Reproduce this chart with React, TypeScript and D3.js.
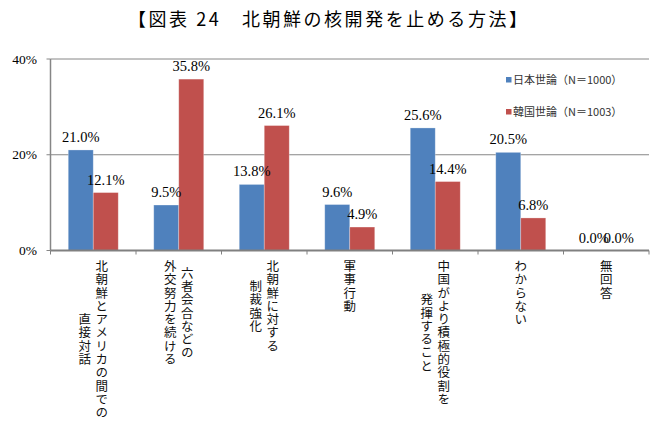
import React from "react";
import * as d3 from "d3";

// カテゴリ（縦書き、行ごとに分割）
const categories: string[][] = [
    ["北朝鮮とアメリカの間での", "直接対話"],
    ["六者会合などの", "外交努力を続ける"],
    ["北朝鮮に対する", "制裁強化"],
    ["軍事行動"],
    ["中国がより積極的役割を", "発揮すること"],
    ["わからない"],
    ["無回答"],
];
const seriesNames = ["日本世論（N＝1000）", "韓国世論（N＝1003）"];
const japanValues = [21.0, 9.5, 13.8, 9.6, 25.6, 20.5, 0.0];
const koreaValues = [12.1, 35.8, 26.1, 4.9, 14.4, 6.8, 0.0];
const yTicks = [0, 20, 40];
const colors = ["#4F81BD", "#C0504D"];

const W = 670, H = 432;
const left = 50.5, right = 649, top = 59, bottom = 250.5;
const catFont = "'Noto Sans CJK JP', 'Noto Sans', sans-serif";
const numFont = "'Liberation Serif', 'DejaVu Serif', serif";

export default function App() {
    const keys = categories.map((c) => c.join(""));
    const x0 = d3.scaleBand<string>().domain(keys).range([left, right]).padding(0);
    const x1 = d3.scaleBand<string>().domain(["jp", "kr"]).range([0, x0.bandwidth()]).paddingInner(0).paddingOuter(0.71);
    const y = d3.scaleLinear().domain([0, 40]).range([bottom, top]);
    const series = [
        { key: "jp", values: japanValues, color: colors[0] },
        { key: "kr", values: koreaValues, color: colors[1] },
    ];
    const catSize = 12.5;
    const step = 13.3; // 一文字あたりの送り
    const lineGap = 17;
    const labelTop = 260;

    return (
        <div style={{ position: "absolute", left: 0, top: 0 }}>
            <svg width={W} height={H} style={{ display: "block", background: "#fff" }}>
                {/* タイトル */}
                <text x={327.5} y={26} textAnchor="middle" fontFamily={catFont} fontSize={18}
                    textLength={399} lengthAdjust="spacing" fill="#000">
                    【図表 24　北朝鮮の核開発を止める方法】
                </text>

                {/* 目盛線 */}
                {yTicks.filter((t) => t > 0).map((t) => (
                    <line key={t} x1={left} x2={right} y1={y(t)} y2={y(t)} stroke="#868686" strokeWidth={1} />
                ))}

                {/* Y軸 */}
                <line x1={left} x2={left} y1={top} y2={bottom} stroke="#868686" strokeWidth={1.5} />
                {yTicks.map((t) => (
                    <g key={t}>
                        <line x1={left - 4} x2={left} y1={y(t)} y2={y(t)} stroke="#868686" strokeWidth={1} />
                        <text x={37} y={y(t)} dy="0.35em" textAnchor="end" fontFamily={numFont} fontSize={13.5} fill="#000">
                            {t}%
                        </text>
                    </g>
                ))}

                {/* 棒 */}
                {keys.map((k, i) => (
                    <g key={k} transform={`translate(${x0(k)},0)`}>
                        {series.map((s) => (
                            <rect key={s.key} x={x1(s.key)} y={y(s.values[i])} width={x1.bandwidth()}
                                height={bottom - y(s.values[i])} fill={s.color} stroke="#ffffff" strokeOpacity={0.35} strokeWidth={0.8} />
                        ))}
                    </g>
                ))}

                {/* 値ラベル */}
                {keys.map((k, i) => (
                    <g key={k + "lab"} transform={`translate(${x0(k)},0)`}>
                        {series.map((s) => (
                            <text key={s.key} x={(x1(s.key) as number) + x1.bandwidth() / 2} y={y(s.values[i]) - 8}
                                textAnchor="middle" fontFamily={numFont} fontSize={14.5} fill="#000">
                                {s.values[i].toFixed(1)}%
                            </text>
                        ))}
                    </g>
                ))}

                {/* X軸 */}
                <line x1={left} x2={right} y1={bottom} y2={bottom} stroke="#808080" strokeWidth={2} />
                {keys.concat([""]).map((k, i) => {
                    const xx = i < keys.length ? (x0(k) as number) : right;
                    return <line key={"t" + i} x1={xx} x2={xx} y1={bottom} y2={bottom + 4} stroke="#808080" strokeWidth={1} />;
                })}

                {/* カテゴリラベル（縦書き） */}
                {categories.map((lines, i) => {
                    const cx = (x0(keys[i]) as number) + x0.bandwidth() / 2;
                    const maxLen = d3.max(lines, (l) => l.length) as number;
                    const midY = labelTop + (maxLen * step) / 2;
                    return (
                        <g key={"c" + i}>
                            {lines.map((line, j) => {
                                const lx = cx + ((lines.length - 1) / 2) * lineGap - j * lineGap;
                                return (
                                    <text key={j} x={lx} y={midY} textAnchor="middle"
                                        style={{ writingMode: "vertical-rl", letterSpacing: `${step - catSize}px` }}
                                        fontFamily={catFont} fontSize={catSize} fill="#111">
                                        {line}
                                    </text>
                                );
                            })}
                        </g>
                    );
                })}

                {/* 凡例 */}
                {seriesNames.map((name, i) => (
                    <g key={name} transform={`translate(506,${80 + i * 32})`}>
                        <rect x={0} y={-3} width={5.5} height={5.5} fill={colors[i]} />
                        <text x={7} y={0} dy="0.36em" fontFamily={catFont} fontSize={11} fill="#333">
                            {name}
                        </text>
                    </g>
                ))}
            </svg>
        </div>
    );
}
